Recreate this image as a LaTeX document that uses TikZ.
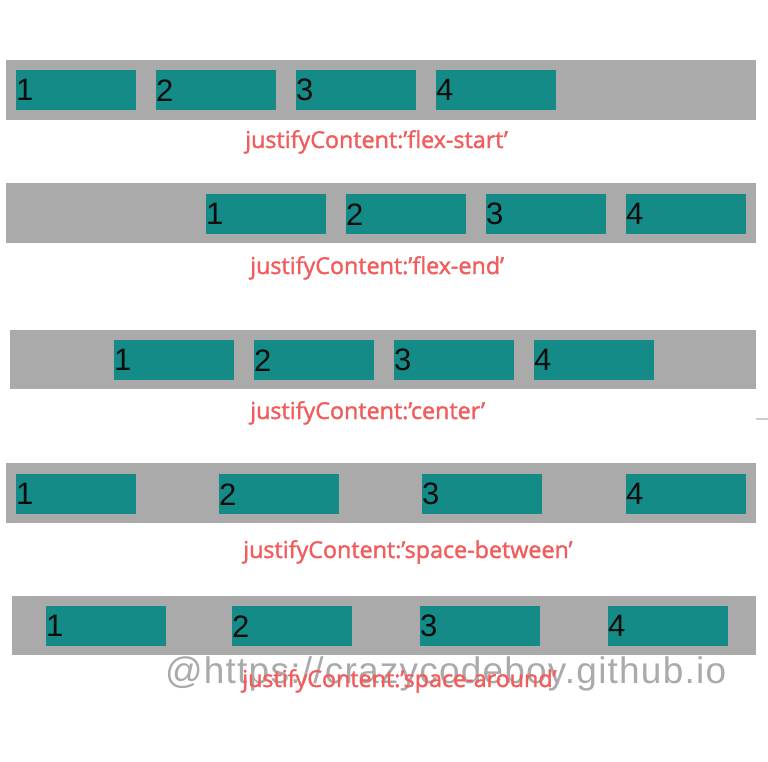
\documentclass[tikz,border=0pt]{standalone}
\usepackage{fontspec}
\setmainfont{Liberation Sans}
\newfontfamily\captionfont[BoldFont={Open Sans},BoldFeatures={FakeBold=1.6}]{Open Sans}
\newfontfamily\markfont[LetterSpace=3.3]{Liberation Sans}
\definecolor{bargray}{RGB}{170,170,170}
\definecolor{itemteal}{RGB}{20,139,135}
\definecolor{labelred}{RGB}{242,92,92}
\definecolor{markgray}{RGB}{155,155,155}
\tikzset{
  bar/.style={fill=bargray},
  item/.style={fill=itemteal,anchor=north west,minimum width=120pt,minimum height=40pt,
    inner sep=0pt,text width=120pt,align=left,text=black!95,font=\fontsize{31}{31}\selectfont},
  caption/.style={anchor=base west,inner sep=0pt,text=labelred,font=\captionfont\bfseries\fontsize{23.3}{23.3}\selectfont},
  watermark/.style={anchor=base west,inner sep=0pt,text=markgray,opacity=0.85,font=\markfont\fontsize{37}{37}\selectfont}
}
\begin{document}
\begin{tikzpicture}[x=1pt,y=-1pt]
  \useasboundingbox (0,0) rectangle (768,762);
  % flex-start
  \fill[bar] (6,60) rectangle (756,120);
  \foreach \x [count=\i] in {16,156,296,436}
    \node[item] (start\i) at (\x,70) {\i};
  \node[caption] (startlbl) at (245,148) {justifyContent:’flex-start’};
  % flex-end
  \fill[bar] (6,183) rectangle (756,243);
  \foreach \x [count=\i] in {206,346,486,626}
    \node[item] (end\i) at (\x,194) {\i};
  \node[caption] (endlbl) at (250,274) {justifyContent:’flex-end’};
  % center
  \fill[bar] (10,330) rectangle (756,389);
  \foreach \x [count=\i] in {114,254,394,534}
    \node[item] (center\i) at (\x,340) {\i};
  \node[caption] (centerlbl) at (250,419) {justifyContent:’center’};
  \draw[bargray!60,line width=1.2pt] (756,419) -- (768,419);
  % space-between
  \fill[bar] (6,463) rectangle (756,523);
  \foreach \x [count=\i] in {16,219,422,626}
    \node[item] (between\i) at (\x,474) {\i};
  \node[caption] (betweenlbl) at (243,558) {justifyContent:’space-between’};
  % space-around
  \fill[bar] (12,596) rectangle (756,655);
  \foreach \x [count=\i] in {46,232,420,608}
    \node[item] (around\i) at (\x,606) {\i};
  \node[watermark] (mark) at (165,683) {@https://crazycodeboy.github.io};
  \node[caption] (aroundlbl) at (242,687) {justifyContent:’space-around’};
\end{tikzpicture}
\end{document}
